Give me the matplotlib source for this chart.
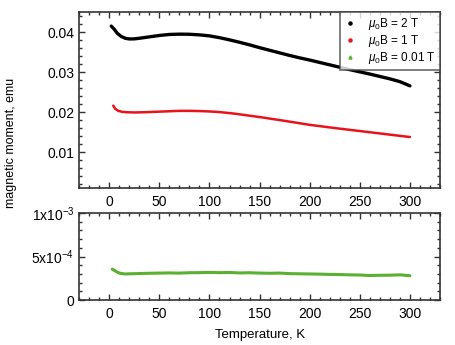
import matplotlib
matplotlib.use("Agg")
import matplotlib.pyplot as plt
from matplotlib.ticker import MultipleLocator, FixedLocator

plt.rcParams['font.family'] = ['Liberation Sans', 'DejaVu Sans']
plt.rcParams['mathtext.fontset'] = 'custom'
plt.rcParams['mathtext.rm'] = 'Liberation Sans'
plt.rcParams['mathtext.it'] = 'Liberation Sans:italic'

# temperature sweeps (K) and moment (emu)
T_2T = [2, 5, 8, 12, 16, 20, 25, 30, 40, 50, 60, 70, 80, 90, 100, 110, 120, 130,
        140, 150, 160, 170, 180, 190, 200, 210, 220, 230, 240, 250, 260, 270,
        280, 290, 300]
M_2T = [0.0415, 0.0407, 0.0397, 0.0389, 0.03845, 0.03828, 0.03830, 0.03845,
        0.03880, 0.03915, 0.03940, 0.03948, 0.03945, 0.03930, 0.03905, 0.03860,
        0.03805, 0.03745, 0.03680, 0.03610, 0.03545, 0.03480, 0.03415, 0.03355,
        0.03300, 0.03240, 0.03180, 0.03120, 0.03060, 0.03005, 0.02950, 0.02890,
        0.02830, 0.02760, 0.02655]

T_1T = [4, 6, 9, 13, 18, 25, 35, 50, 60, 70, 80, 90, 100, 110, 125, 150, 175,
        200, 225, 250, 275, 300]
M_1T = [0.0216, 0.0208, 0.02030, 0.02005, 0.01995, 0.01990, 0.01995, 0.02010,
        0.02020, 0.02030, 0.02030, 0.02025, 0.02015, 0.02000, 0.01960, 0.01875,
        0.01780, 0.01680, 0.01600, 0.01525, 0.01450, 0.01375]

T_001T = [3, 6, 9, 12, 16, 20, 30, 40, 50, 60, 70, 80, 90, 100, 110, 120, 130,
          140, 150, 160, 170, 180, 190, 200, 210, 220, 230, 240, 250, 260, 270,
          280, 290, 300]
M_001T = [3.55e-4, 3.35e-4, 3.15e-4, 3.05e-4, 3.0e-4, 3.02e-4, 3.05e-4, 3.08e-4,
          3.1e-4, 3.12e-4, 3.1e-4, 3.14e-4, 3.15e-4, 3.18e-4, 3.15e-4, 3.17e-4,
          3.12e-4, 3.14e-4, 3.1e-4, 3.08e-4, 3.1e-4, 3.04e-4, 3.02e-4, 3.0e-4,
          2.98e-4, 2.95e-4, 2.93e-4, 2.9e-4, 2.88e-4, 2.82e-4, 2.85e-4, 2.86e-4,
          2.9e-4, 2.8e-4]

fig = plt.figure(figsize=(4.55, 3.45), dpi=100)
ax1 = fig.add_axes([0.174, 0.455, 0.793, 0.510])
ax2 = fig.add_axes([0.174, 0.130, 0.793, 0.253])

ax1.plot(T_2T, M_2T, color='black', lw=2.4, solid_capstyle='round')
ax1.plot(T_1T, M_1T, color='#e8141c', lw=1.8, solid_capstyle='round')
ax2.plot(T_001T, M_001T, color='#5ab031', lw=2.2, solid_capstyle='round')

# legend handles: small dots only
h1, = ax1.plot([], [], 'o', color='black', ms=2.2)
h2, = ax1.plot([], [], 'o', color='#e8141c', ms=2.2)
h3, = ax1.plot([], [], '^', color='#5ab031', ms=2.2)
leg = ax1.legend([h1, h2, h3],
                 [r'$\mu_0$B = 2 T', r'$\mu_0$B = 1 T', r'$\mu_0$B = 0.01 T'],
                 loc='upper right', fontsize=8.5, frameon=True, fancybox=False,
                 borderaxespad=0.0, handlelength=1.0, handletextpad=1.0,
                 labelspacing=0.08, borderpad=0.35)
leg.get_frame().set_edgecolor('#444444')
leg.get_frame().set_linewidth(1.2)

ax1.set_xlim(-30, 330)
ax1.set_ylim(0.001, 0.045)
ax1.yaxis.set_major_locator(FixedLocator([0.01, 0.02, 0.03, 0.04]))
ax1.yaxis.set_major_formatter(matplotlib.ticker.FuncFormatter(lambda v, p: f"{v:.2f}"))
ax1.yaxis.set_minor_locator(MultipleLocator(0.002))

ax2.set_xlim(-30, 330)
ax2.set_ylim(0, 1e-3)
ax2.yaxis.set_major_locator(FixedLocator([0, 5e-4, 1e-3]))
ax2.set_yticklabels(['0', r'5x10$^{-4}$', r'1x10$^{-3}$'])
ax2.yaxis.set_minor_locator(MultipleLocator(1e-4))

for ax in (ax1, ax2):
    ax.xaxis.set_major_locator(MultipleLocator(50))
    ax.xaxis.set_minor_locator(MultipleLocator(10))
    ax.tick_params(which='both', direction='in', top=True, right=True,
                   labelsize=10, width=1.0, color='#333333')
    ax.tick_params(which='major', length=4)
    ax.tick_params(which='minor', length=2)
    ax.tick_params(axis='x', pad=5)
    for s in ax.spines.values():
        s.set_linewidth(1.2)
        s.set_color('#333333')

fig.text(0.024, 0.585, 'magnetic moment, emu', rotation=90, ha='center',
         va='center', fontsize=9)
ax2.set_xlabel('Temperature, K', fontsize=9.5, labelpad=6)

fig.savefig('out.png', dpi=100)
